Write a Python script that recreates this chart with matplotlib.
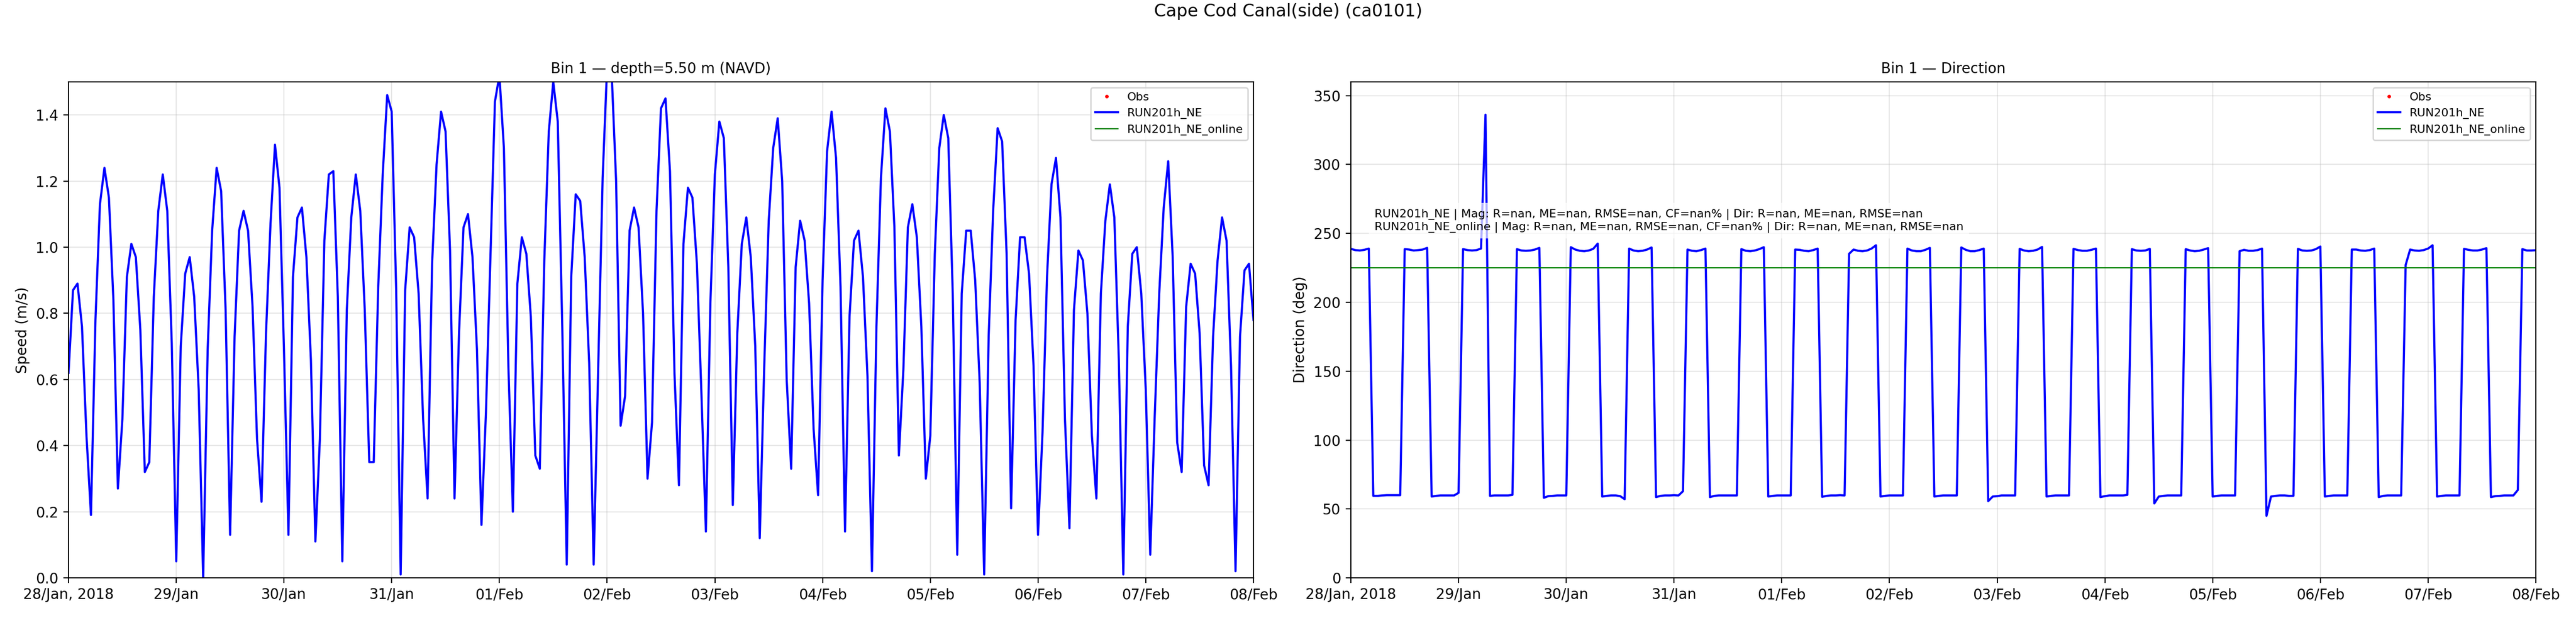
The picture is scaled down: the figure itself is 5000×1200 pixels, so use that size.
import numpy as np
import pandas as pd
import matplotlib
matplotlib.use("Agg")
import matplotlib.pyplot as plt

# ---------------- data ----------------
start_time = "2018-01-28 00:00"
end_time = "2018-02-08 00:00"

speed_run = [
    0.62, 0.87, 0.89, 0.76, 0.43, 0.19, 0.78, 1.13, 1.24, 1.15, 0.84, 0.27,
    0.48, 0.91, 1.01, 0.97, 0.75, 0.32, 0.35, 0.85, 1.11, 1.22, 1.11, 0.71,
    0.05, 0.70, 0.92, 0.97, 0.85, 0.57, 0.00, 0.69, 1.05, 1.24, 1.17, 0.81,
    0.13, 0.73, 1.05, 1.11, 1.05, 0.82, 0.42, 0.23, 0.74, 1.07, 1.31, 1.18,
    0.69, 0.13, 0.91, 1.09, 1.12, 0.97, 0.66, 0.11, 0.42, 1.02, 1.22, 1.23,
    0.85, 0.05, 0.81, 1.09, 1.22, 1.11, 0.81, 0.35, 0.35, 0.88, 1.22, 1.46,
    1.41, 0.87, 0.01, 0.87, 1.06, 1.03, 0.86, 0.48, 0.24, 0.95, 1.25, 1.41,
    1.35, 0.99, 0.24, 0.74, 1.06, 1.10, 0.97, 0.69, 0.16, 0.50, 0.97, 1.44,
    1.52, 1.30, 0.64, 0.20, 0.89, 1.03, 0.98, 0.79, 0.37, 0.33, 0.96, 1.35,
    1.50, 1.38, 0.76, 0.04, 0.91, 1.16, 1.14, 0.97, 0.65, 0.04, 0.63, 1.21,
    1.55, 1.53, 1.20, 0.46, 0.55, 1.05, 1.12, 1.06, 0.80, 0.30, 0.47, 1.11,
    1.42, 1.45, 1.23, 0.62, 0.28, 1.01, 1.18, 1.15, 0.95, 0.56, 0.14, 0.83,
    1.22, 1.38, 1.33, 0.94, 0.22, 0.74, 1.01, 1.09, 0.97, 0.70, 0.12, 0.64,
    1.08, 1.30, 1.39, 1.20, 0.60, 0.33, 0.94, 1.08, 1.02, 0.83, 0.45, 0.25,
    0.90, 1.29, 1.41, 1.27, 0.88, 0.14, 0.79, 1.02, 1.05, 0.91, 0.61, 0.02,
    0.76, 1.21, 1.42, 1.35, 1.06, 0.37, 0.63, 1.06, 1.13, 1.03, 0.76, 0.30,
    0.43, 0.98, 1.30, 1.40, 1.33, 0.86, 0.07, 0.86, 1.05, 1.05, 0.90, 0.59,
    0.01, 0.73, 1.11, 1.36, 1.32, 0.98, 0.21, 0.78, 1.03, 1.03, 0.92, 0.64,
    0.13, 0.44, 0.91, 1.19, 1.27, 1.09, 0.48, 0.15, 0.81, 0.99, 0.96, 0.80,
    0.43, 0.24, 0.86, 1.08, 1.19, 1.09, 0.66, 0.01, 0.76, 0.98, 1.00, 0.86,
    0.57, 0.07, 0.49, 0.86, 1.12, 1.26, 0.97, 0.41, 0.32, 0.82, 0.95, 0.92,
    0.74, 0.34, 0.28, 0.73, 0.96, 1.09, 1.02, 0.64, 0.02, 0.73, 0.93, 0.95,
    0.78,
]

dir_run = [
    238.8, 237.9, 237.6, 238.1, 239.0, 59.5, 59.5, 59.8, 60.0, 60.0, 60.0, 60.0,
    238.6, 238.3, 237.6, 237.9, 238.3, 239.5, 59.0, 59.5, 59.8, 59.8, 59.8, 59.8,
    61.7, 238.6, 237.9, 237.6, 237.9, 239.0, 336.2, 59.5, 59.8, 59.8, 59.8, 59.8,
    60.2, 238.6, 237.6, 237.4, 237.6, 238.3, 239.5, 58.1, 59.3, 59.5, 59.8, 59.8,
    59.8, 240.0, 238.3, 237.4, 237.1, 237.6, 238.8, 242.6, 59.0, 59.5, 59.8, 59.8,
    59.3, 57.1, 239.0, 237.6, 237.1, 237.4, 238.3, 239.8, 58.6, 59.5, 59.8, 59.8,
    60.0, 59.8, 62.9, 238.3, 237.4, 237.1, 237.9, 239.0, 58.6, 59.5, 59.8, 59.8,
    59.8, 59.8, 59.8, 238.6, 237.4, 237.1, 237.6, 238.6, 240.0, 59.0, 59.5, 59.8,
    59.8, 59.8, 59.8, 238.3, 238.1, 237.4, 237.1, 237.9, 239.0, 58.8, 59.5, 59.8,
    59.8, 60.0, 59.8, 235.2, 238.3, 237.4, 237.1, 237.6, 239.0, 241.4, 59.0, 59.5,
    59.8, 59.8, 59.8, 59.8, 239.0, 237.6, 237.1, 237.1, 238.1, 239.5, 59.0, 59.5,
    59.8, 59.8, 59.8, 59.8, 239.8, 238.1, 237.1, 237.1, 237.9, 239.0, 55.7, 59.0,
    59.3, 59.8, 59.8, 59.8, 59.8, 238.8, 237.6, 237.1, 237.4, 238.3, 240.2, 59.0,
    59.5, 59.8, 59.8, 59.8, 59.8, 238.8, 237.9, 237.4, 237.4, 238.1, 239.0, 58.6,
    59.3, 59.8, 59.8, 59.8, 59.8, 60.2, 238.6, 237.6, 237.4, 237.6, 238.8, 54.0,
    59.0, 59.5, 59.8, 59.8, 59.8, 59.8, 238.6, 237.6, 237.1, 237.4, 238.3, 239.3,
    59.0, 59.5, 59.8, 59.8, 59.8, 59.8, 237.1, 238.1, 237.4, 237.4, 237.9, 239.0,
    45.0, 59.0, 59.5, 59.8, 59.8, 59.5, 59.5, 238.8, 237.6, 237.4, 237.6, 238.6,
    240.5, 59.0, 59.5, 59.8, 59.8, 59.8, 59.8, 238.3, 238.3, 237.6, 237.4, 237.9,
    239.0, 58.6, 59.5, 59.8, 59.8, 59.8, 59.8, 227.1, 238.3, 237.6, 237.4, 237.9,
    239.0, 241.4, 59.0, 59.5, 59.8, 59.8, 59.8, 59.8, 238.8, 238.1, 237.6, 237.6,
    238.3, 239.3, 58.6, 59.3, 59.5, 59.8, 59.8, 59.8, 63.8, 238.6, 237.6, 237.6,
    237.8,
]

# RUN201h_NE_online: constant direction line, no speed data
dir_online = [225.0, 225.0]
speed_online = []
obs_values = []

tick_dates = ["2018-01-28", "2018-01-29", "2018-01-30", "2018-01-31", "2018-02-01",
              "2018-02-02", "2018-02-03", "2018-02-04", "2018-02-05", "2018-02-06",
              "2018-02-07", "2018-02-08"]
tick_labels = ["28/Jan, 2018", "29/Jan", "30/Jan", "31/Jan", "01/Feb", "02/Feb",
               "03/Feb", "04/Feb", "05/Feb", "06/Feb", "07/Feb", "08/Feb"]

speed_yticks = [0.0, 0.2, 0.4, 0.6, 0.8, 1.0, 1.2, 1.4]
dir_yticks = [0, 50, 100, 150, 200, 250, 300, 350]

annot_text = ("RUN201h_NE | Mag: R=nan, ME=nan, RMSE=nan, CF=nan% | Dir: R=nan, ME=nan, RMSE=nan\n"
              "RUN201h_NE_online | Mag: R=nan, ME=nan, RMSE=nan, CF=nan% | Dir: R=nan, ME=nan, RMSE=nan")

# ---------------- plot ----------------
times = pd.date_range(start_time, periods=len(speed_run), freq="h")
t_online = pd.to_datetime([start_time, end_time])
ticks = pd.to_datetime(tick_dates)

fig = plt.figure(figsize=(25, 6), dpi=200)
ax1 = fig.add_axes([0.0266, 0.065, 0.46, 0.8025])
ax2 = fig.add_axes([0.5244, 0.065, 0.46, 0.8025])

# Speed
ax1.plot([], [], 'r.', ms=3, label='Obs')
ax1.plot(times, speed_run, color='blue', lw=1.5, label='RUN201h_NE')
ax1.plot([], [], color='green', lw=0.8, label='RUN201h_NE_online')
ax1.set_ylim(0, 1.5)
ax1.set_yticks(speed_yticks)
ax1.set_ylabel('Speed (m/s)')
ax1.set_title('Bin 1 — depth=5.50 m (NAVD)', fontsize=10)

# Direction
ax2.plot([], [], 'r.', ms=3, label='Obs')
ax2.plot(times, dir_run, color='blue', lw=1.5, label='RUN201h_NE')
ax2.plot(t_online, dir_online, color='green', lw=0.8, label='RUN201h_NE_online')
ax2.set_ylim(0, 360)
ax2.set_yticks(dir_yticks)
ax2.set_ylabel('Direction (deg)')
ax2.set_title('Bin 1 — Direction', fontsize=10)
ax2.text(0.02, 0.72, annot_text, transform=ax2.transAxes, fontsize=8,
         ha='left', va='center',
         bbox=dict(facecolor='white', alpha=0.7, edgecolor='none'))

for ax in (ax1, ax2):
    ax.set_xlim(ticks[0], ticks[-1])
    ax.set_xticks(ticks)
    ax.set_xticklabels(tick_labels)
    ax.grid(True, alpha=0.3)
    ax.tick_params(labelsize=10)
    ax.legend(loc='upper right', fontsize=8)

fig.suptitle('Cape Cod Canal(side) (ca0101)', fontsize=12, y=0.995, va='top')

fig.savefig('out.png', dpi=200)
